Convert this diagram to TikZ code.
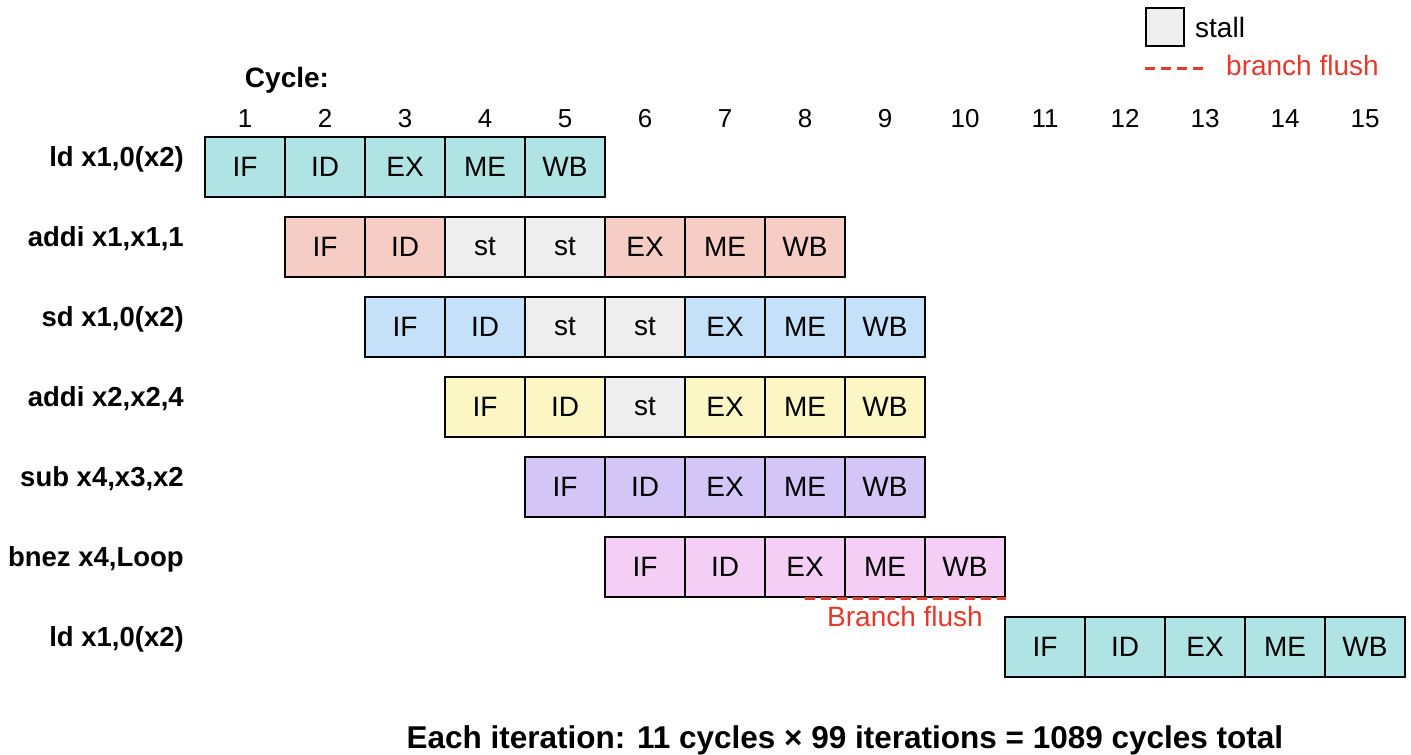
\documentclass[tikz,border=0pt]{standalone}
\usepackage{fontspec}
\setmainfont{Liberation Sans}
\definecolor{cteal}{HTML}{B0E4E4}
\definecolor{csalmon}{HTML}{F6CDC4}
\definecolor{cblue}{HTML}{C5E0F9}
\definecolor{cyellow}{HTML}{FBF6C4}
\definecolor{cpurple}{HTML}{D3C6F6}
\definecolor{cpink}{HTML}{F5CEF5}
\definecolor{cstall}{HTML}{EEEEEE}
\definecolor{cred}{HTML}{E5392B}
\newcommand{\pipeRow}[4]{%
  \foreach \t [count=\k from 0] in {#4} {%
    \def\fillc{#3}%
    \def\tmpst{st}\edef\tmpt{\t}%
    \ifx\tmpt\tmpst \def\fillc{cstall}\fi
    \pgfmathsetmacro\cx{245+80*(#2+\k-1)}%
    \pgfmathsetmacro\cy{167+80*(#1-1)}%
    \node[cell, fill=\fillc] (r#1c\k) at (\cx,\cy) {\t};
  }%
}
\begin{document}
\begin{tikzpicture}[x=1pt,y=-1pt,
  cell/.style={draw=black, line width=2pt, minimum width=80pt, minimum height=60pt, inner sep=0pt, font=\fontsize{28}{30}\selectfont},
  rowlab/.style={anchor=base east, inner sep=0pt, font=\bfseries\fontsize{27.5}{30}\selectfont},
  cyc/.style={anchor=base, inner sep=0pt, font=\fontsize{26}{28}\selectfont},
  flush/.style={draw=cred, line width=3pt, dash pattern=on 10pt off 6pt},
  redtxt/.style={inner sep=0pt, text=cred, font=\fontsize{28}{30}\selectfont}
]
\useasboundingbox (0,0) rectangle (1411,755);

% legend
\node[draw=black, line width=2pt, fill=cstall, minimum width=38pt, minimum height=38pt, inner sep=0pt] (legbox) at (1164.5,27) {};
\node[inner sep=0pt, anchor=base west, font=\fontsize{28}{30}\selectfont] (legstall) at (1195,37) {stall};
\coordinate (legA) at (1145,68);
\coordinate (legB) at (1205,68);
\draw[flush] (legA) -- (legB);
\node[redtxt, anchor=base west] (legflush) at (1226,75) {branch flush};

% header
\node[anchor=base, inner sep=0pt, font=\bfseries\fontsize{28}{30}\selectfont] (cyclab) at (287,87) {Cycle:};
\foreach \n in {1,...,15} {
  \node[cyc] (cyc\n) at ({245+80*(\n-1)},127) {\n};
}

% row labels
\node[rowlab] (lab1) at (184,166) {ld x1,0(x2)};
\node[rowlab] (lab2) at (184,246) {addi x1,x1,1};
\node[rowlab] (lab3) at (184,326) {sd x1,0(x2)};
\node[rowlab] (lab4) at (184,406) {addi x2,x2,4};
\node[rowlab] (lab5) at (184,486) {sub x4,x3,x2};
\node[rowlab] (lab6) at (184,566) {bnez x4,Loop};
\node[rowlab] (lab7) at (184,646) {ld x1,0(x2)};

% pipelines
\pipeRow{1}{1}{cteal}{IF,ID,EX,ME,WB}
\pipeRow{2}{2}{csalmon}{IF,ID,st,st,EX,ME,WB}
\pipeRow{3}{3}{cblue}{IF,ID,st,st,EX,ME,WB}
\pipeRow{4}{4}{cyellow}{IF,ID,st,EX,ME,WB}
\pipeRow{5}{5}{cpurple}{IF,ID,EX,ME,WB}
\pipeRow{6}{6}{cpink}{IF,ID,EX,ME,WB}
\pipeRow{7}{11}{cteal}{IF,ID,EX,ME,WB}

% branch flush
\draw[flush] (r6c2.south) -- (r6c4.south east);
\node[redtxt, anchor=base] (flushlab) at (905,626) {Branch flush};

% footer
\node[anchor=base, inner sep=0pt, font=\bfseries\fontsize{31.5}{34}\selectfont] (footer) at (845,748) {Each iteration: 11 cycles × 99 iterations = 1089 cycles total};
\end{tikzpicture}
\end{document}
